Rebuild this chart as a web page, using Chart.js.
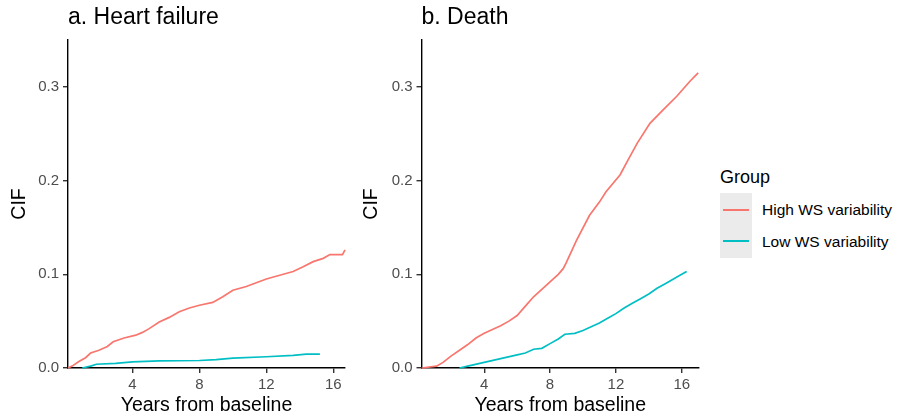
<!DOCTYPE html>
<html>
<head>
<meta charset="utf-8">
<script src="https://cdn.jsdelivr.net/npm/chart.js@4.4.1/dist/chart.umd.min.js"></script>
<style>
  html, body { margin: 0; padding: 0; background: #fff; }
  body { width: 899px; height: 419px; position: relative; overflow: hidden; font-family: "Liberation Sans", Arial, sans-serif; }
  canvas { position: absolute; top: 0; }
  #chart-a { left: 0; }
  #chart-b { left: 352px; }
  .legend-title { position: absolute; left: 720px; top: 167px; font-size: 18px; line-height: 20px; color: #000; }
  .legend-keys { position: absolute; left: 720px; top: 193px; width: 32px; height: 65px; background: #ebebeb; }
  .swatch { position: absolute; left: 3px; width: 26px; height: 2px; }
  .legend-label { position: absolute; left: 762px; font-size: 15.5px; line-height: 32px; color: #000; white-space: nowrap; }
</style>
</head>
<body>
<canvas id="chart-a" width="355" height="419"></canvas>
<canvas id="chart-b" width="357" height="419"></canvas>

<div class="legend-title">Group</div>
<div class="legend-keys">
  <div class="swatch" id="swatch-high" style="top: 16px;"></div>
  <div class="swatch" id="swatch-low" style="top: 47px;"></div>
</div>
<div class="legend-label" id="label-high" style="top: 194px;"></div>
<div class="legend-label" id="label-low" style="top: 226px;"></div>

<script>
// ========== data ==========
const groups = ['High WS variability', 'Low WS variability'];
const groupColors = ['#F8766D', '#00BFC4'];
const xTicks = [4, 8, 12, 16];
const yTicks = [0, 0.1, 0.2, 0.3];

// a. Heart failure
const hfHighYears = [0.15, 0.4, 0.8, 1.2, 1.5, 2.0, 2.5, 2.85, 3.5, 4.2, 4.6, 5.0, 5.6, 6.2, 6.8, 7.4, 8.0, 8.8, 9.4, 10.0, 10.8, 11.4, 12.0, 12.8, 13.6, 14.2, 14.8, 15.4, 15.8, 16.55, 16.7];
const hfHighCif = [0, 0.002, 0.007, 0.011, 0.016, 0.019, 0.023, 0.028, 0.032, 0.035, 0.038, 0.042, 0.049, 0.054, 0.060, 0.064, 0.067, 0.070, 0.076, 0.083, 0.087, 0.091, 0.095, 0.099, 0.103, 0.108, 0.1135, 0.117, 0.121, 0.121, 0.126];
const hfLowYears = [1.0, 1.5, 1.85, 3.0, 4.0, 5.6, 8.0, 9.0, 10.0, 12.0, 13.6, 14.4, 15.2];
const hfLowCif = [0, 0.002, 0.004, 0.005, 0.0065, 0.0075, 0.008, 0.009, 0.0105, 0.012, 0.0135, 0.0148, 0.0148];

// b. Death
const deathHighYears = [0.2, 1.1, 1.5, 2.0, 2.5, 3.0, 3.5, 4.0, 4.5, 5.0, 5.5, 6.0, 6.5, 7.0, 7.5, 8.0, 8.5, 8.8, 9.0, 9.6, 10.4, 11.0, 11.4, 12.25, 12.8, 13.3, 14.07, 14.9, 15.7, 16.5, 17.0];
const deathHighCif = [0, 0.002, 0.006, 0.013, 0.019, 0.025, 0.032, 0.037, 0.041, 0.045, 0.050, 0.056, 0.066, 0.076, 0.084, 0.092, 0.100, 0.106, 0.113, 0.136, 0.163, 0.177, 0.188, 0.206, 0.224, 0.240, 0.261, 0.276, 0.290, 0.306, 0.315];
const deathLowYears = [2.5, 3.0, 4.0, 5.0, 6.0, 6.5, 7.0, 7.5, 8.0, 8.5, 8.9, 9.5, 10.0, 10.5, 11.0, 11.5, 12.0, 12.5, 13.0, 13.5, 14.0, 14.5, 15.0, 15.5, 16.0, 16.3];
const deathLowCif = [0, 0.002, 0.006, 0.010, 0.014, 0.016, 0.020, 0.021, 0.026, 0.031, 0.036, 0.037, 0.040, 0.044, 0.048, 0.053, 0.058, 0.064, 0.069, 0.074, 0.079, 0.085, 0.090, 0.095, 0.100, 0.103];

const FONT = '"Liberation Sans", Arial, sans-serif';

// panel title drawn at the left edge of the plot area
const panelTitle = {
  id: 'panelTitle',
  afterDraw(chart, args, opts) {
    const { ctx, chartArea } = chart;
    ctx.save();
    ctx.font = `23px ${FONT}`;
    ctx.fillStyle = '#000';
    ctx.textBaseline = 'alphabetic';
    ctx.textAlign = 'left';
    ctx.fillText(opts.text, chartArea.left, 24);
    ctx.restore();
  }
};

function toPoints(xs, ys) {
  return xs.map((x, i) => ({ x: x, y: ys[i] }));
}

function makePanel(id, title, highX, highY, lowX, lowY, xMin, xMax, yAxisWidth, padRight) {
  const ctx = document.getElementById(id).getContext('2d');
  const axisGrid = { drawOnChartArea: false, tickLength: 5, color: '#333', lineWidth: 1.4 };
  const axisBorder = { display: true, color: '#000', width: 1.4 };
  const tickFont = { family: FONT, size: 15 };

  return new Chart(ctx, {
    type: 'line',
    data: {
      datasets: [
        { label: groups[0], data: toPoints(highX, highY), borderColor: groupColors[0], borderWidth: 1.7, pointRadius: 0, tension: 0, fill: false, clip: false },
        { label: groups[1], data: toPoints(lowX, lowY), borderColor: groupColors[1], borderWidth: 1.7, pointRadius: 0, tension: 0, fill: false, clip: false }
      ]
    },
    options: {
      responsive: false,
      animation: false,
      events: [],
      layout: { padding: { top: 40, right: padRight, left: 0, bottom: 0 } },
      plugins: {
        legend: { display: false },
        tooltip: { enabled: false },
        panelTitle: { text: title }
      },
      scales: {
        x: {
          type: 'linear',
          min: xMin,
          max: xMax,
          afterBuildTicks: s => { s.ticks = xTicks.map(v => ({ value: v })); },
          afterFit: s => { s.height = 51; },
          ticks: { font: tickFont, color: '#4D4D4D', padding: 3, maxRotation: 0 },
          grid: axisGrid,
          border: axisBorder,
          title: { display: true, text: 'Years from baseline', color: '#000', font: { family: FONT, size: 19.5 }, padding: { top: 0, bottom: 2 } }
        },
        y: {
          type: 'linear',
          min: 0,
          max: 0.35,
          afterBuildTicks: s => { s.ticks = yTicks.map(v => ({ value: v })); },
          afterFit: s => { s.width = yAxisWidth; },
          ticks: { font: tickFont, color: '#4D4D4D', padding: 4, callback: v => v.toFixed(1) },
          grid: axisGrid,
          border: axisBorder,
          title: { display: true, text: 'CIF', color: '#000', font: { family: FONT, size: 19.5 }, padding: { top: 8, bottom: 0 } }
        }
      }
    },
    plugins: [panelTitle]
  });
}

// ========== legend ==========
function setupLegend() {
  document.getElementById('swatch-high').style.background = groupColors[0];
  document.getElementById('swatch-low').style.background = groupColors[1];
  document.getElementById('label-high').textContent = groups[0];
  document.getElementById('label-low').textContent = groups[1];
}

makePanel('chart-a', 'a. Heart failure', hfHighYears, hfHighCif, hfLowYears, hfLowCif, 0.15, 16.7, 68, 10);
makePanel('chart-b', 'b. Death', deathHighYears, deathHighCif, deathLowYears, deathLowCif, 0.19, 17.05, 69.5, 10);
setupLegend();
</script>
</body>
</html>
